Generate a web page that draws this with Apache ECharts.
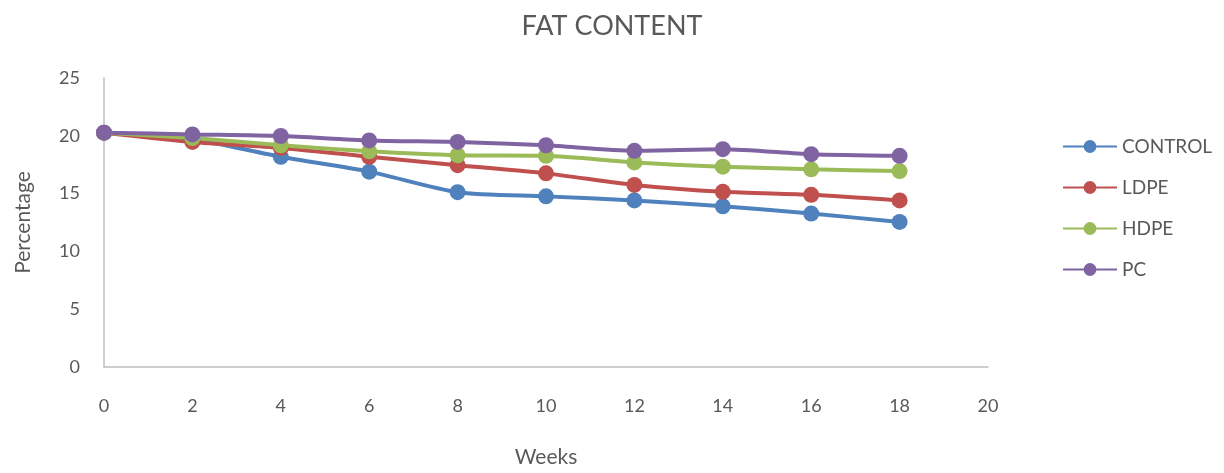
<!DOCTYPE html>
<html>
<head>
<meta charset="utf-8">
<script src="https://cdn.jsdelivr.net/npm/echarts@6/dist/echarts.min.js"></script>
<style>
  html, body { margin: 0; padding: 0; background: #ffffff; overflow: hidden; }
  #chart { width: 1224px; height: 473px; }
</style>
</head>
<body>
<div id="chart"></div>
<script>
// Fat content (%) over storage weeks for each packaging type
const weeks = [0, 2, 4, 6, 8, 10, 12, 14, 16, 18];
const control = [20.27, 19.7, 18.18, 16.9, 15.12, 14.76, 14.41, 13.9, 13.27, 12.55];
const ldpe    = [20.27, 19.47, 18.95, 18.18, 17.46, 16.75, 15.75, 15.15, 14.89, 14.41];
const hdpe    = [20.27, 19.81, 19.18, 18.66, 18.32, 18.27, 17.7, 17.33, 17.1, 16.95];
const pc      = [20.27, 20.12, 19.98, 19.6, 19.47, 19.18, 18.7, 18.84, 18.41, 18.27];

const seriesNames = ['CONTROL', 'LDPE', 'HDPE', 'PC'];
const seriesValues = [control, ldpe, hdpe, pc];
const colors = ['#4f81bd', '#c0504d', '#9bbb59', '#8064a2'];

const font = 'Lato, "Open Sans", sans-serif';
const textColor = '#595959';

const chart = echarts.init(document.getElementById('chart'), null, { width: 1224, height: 473 });
chart.setOption({
  animation: false,
  color: colors,
  title: {
    text: 'FAT CONTENT',
    left: 'center',
    top: 8,
    textStyle: { fontFamily: font, fontSize: 27, fontWeight: 'normal', color: textColor }
  },
  legend: {
    orient: 'vertical',
    left: 1062,
    top: 137,
    padding: 0,
    itemWidth: 54,
    itemHeight: 16,
    itemGap: 22,
    textStyle: { fontFamily: font, fontSize: 19, lineHeight: 19, color: textColor },
    data: seriesNames
  },
  grid: { left: 104, right: 236, top: 78, bottom: 100, containLabel: false },
  xAxis: {
    type: 'value',
    min: 0,
    max: 20,
    interval: 2,
    name: 'Weeks',
    nameLocation: 'middle',
    nameGap: 80,
    nameTextStyle: { fontFamily: font, fontSize: 21, color: textColor },
    axisLine: { show: true, lineStyle: { color: '#bfbfbf', width: 1.5 } },
    axisTick: { show: false },
    splitLine: { show: false },
    axisLabel: { margin: 30, fontFamily: font, fontSize: 18, color: textColor }
  },
  yAxis: {
    type: 'value',
    min: 0,
    max: 25,
    interval: 5,
    name: 'Percentage',
    nameLocation: 'middle',
    nameGap: 70,
    nameTextStyle: { fontFamily: font, fontSize: 21, color: textColor },
    axisLine: { show: true, lineStyle: { color: '#bfbfbf', width: 1.5 } },
    axisTick: { show: false },
    splitLine: { show: false },
    axisLabel: { margin: 24, fontFamily: font, fontSize: 18, color: textColor }
  },
  series: seriesNames.map((name, i) => ({
    name: name,
    type: 'line',
    smooth: 0.25,
    symbol: 'circle',
    symbolSize: 16,
    lineStyle: { width: 4, color: colors[i] },
    itemStyle: { color: colors[i] },
    data: weeks.map((w, j) => [w, seriesValues[i][j]])
  }))
});
</script>
</body>
</html>
